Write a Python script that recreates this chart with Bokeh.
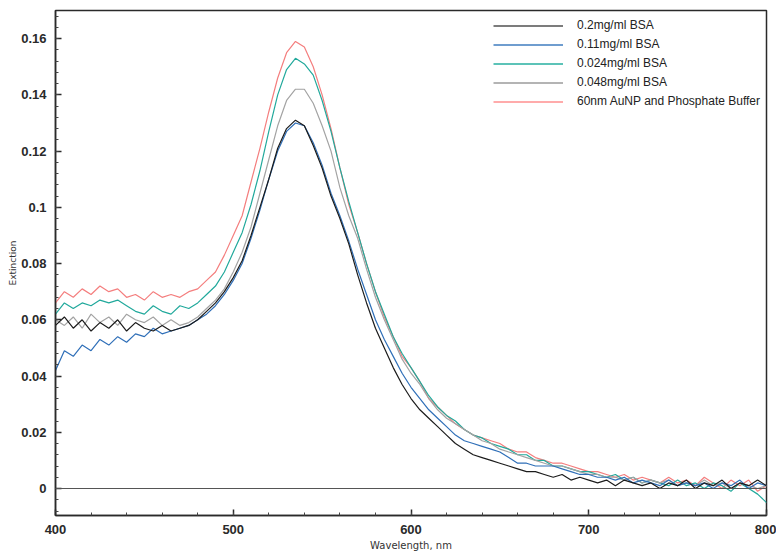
from bokeh.plotting import figure
from bokeh.models import (Range1d, FixedTicker, CustomJSTickFormatter, Span,
                          Legend, LegendItem)
from bokeh.embed import file_html
from bokeh.resources import INLINE

wavelength = list(range(400, 801, 5))

bsa_020 = [0.058, 0.061, 0.057, 0.060, 0.056, 0.059, 0.057, 0.060, 0.056, 0.059,
           0.057, 0.056, 0.058, 0.056, 0.057, 0.058, 0.060, 0.063, 0.066, 0.070,
           0.075, 0.081, 0.090, 0.100, 0.110, 0.121, 0.128, 0.131, 0.129, 0.122,
           0.114, 0.104, 0.096, 0.087, 0.076, 0.066, 0.057, 0.050, 0.043, 0.037,
           0.032, 0.028, 0.025, 0.022, 0.019, 0.016, 0.014, 0.012, 0.011, 0.010,
           0.009, 0.008, 0.007, 0.006, 0.006, 0.005, 0.004, 0.005, 0.003, 0.004,
           0.003, 0.002, 0.003, 0.001, 0.003, 0.002, 0.001, 0.002, 0.000, 0.002,
           0.001, 0.003, 0.000, 0.002, 0.001, 0.003, 0.000, 0.002, 0.001, 0.003,
           0.001]

bsa_011 = [0.042, 0.049, 0.047, 0.051, 0.049, 0.053, 0.051, 0.054, 0.052, 0.055,
           0.054, 0.057, 0.055, 0.056, 0.057, 0.058, 0.060, 0.062, 0.065, 0.069,
           0.074, 0.080, 0.089, 0.099, 0.110, 0.120, 0.127, 0.130, 0.129, 0.123,
           0.115, 0.105, 0.097, 0.088, 0.078, 0.069, 0.060, 0.053, 0.047, 0.041,
           0.036, 0.032, 0.028, 0.025, 0.022, 0.019, 0.017, 0.016, 0.015, 0.014,
           0.013, 0.011, 0.009, 0.009, 0.008, 0.008, 0.008, 0.007, 0.006, 0.005,
           0.005, 0.004, 0.004, 0.003, 0.004, 0.002, 0.003, 0.002, 0.001, 0.003,
           0.001, 0.002, 0.001, 0.002, 0.000, 0.002, 0.001, 0.003, 0.000, 0.002,
           0.001]

bsa_0024 = [0.062, 0.066, 0.064, 0.066, 0.065, 0.067, 0.066, 0.067, 0.065, 0.063,
            0.062, 0.065, 0.063, 0.062, 0.065, 0.064, 0.066, 0.069, 0.072, 0.077,
            0.084, 0.091, 0.101, 0.113, 0.127, 0.140, 0.149, 0.153, 0.151, 0.147,
            0.138, 0.127, 0.114, 0.102, 0.091, 0.080, 0.070, 0.062, 0.054, 0.048,
            0.043, 0.038, 0.033, 0.029, 0.026, 0.024, 0.021, 0.019, 0.018, 0.016,
            0.015, 0.014, 0.012, 0.012, 0.010, 0.010, 0.008, 0.008, 0.007, 0.006,
            0.006, 0.005, 0.004, 0.005, 0.003, 0.004, 0.002, 0.003, 0.002, 0.001,
            0.003, 0.001, 0.002, 0.000, 0.002, 0.001, -0.001, 0.002, 0.000, -0.002,
            -0.005]

bsa_0048 = [0.060, 0.058, 0.061, 0.057, 0.062, 0.059, 0.061, 0.058, 0.062, 0.060,
            0.059, 0.061, 0.058, 0.060, 0.058, 0.059, 0.061, 0.064, 0.067, 0.071,
            0.077, 0.084, 0.093, 0.105, 0.117, 0.129, 0.138, 0.142, 0.142, 0.137,
            0.129, 0.120, 0.107, 0.097, 0.089, 0.078, 0.068, 0.060, 0.053, 0.046,
            0.041, 0.037, 0.032, 0.028, 0.025, 0.023, 0.021, 0.019, 0.017, 0.016,
            0.014, 0.013, 0.012, 0.011, 0.010, 0.009, 0.008, 0.008, 0.007, 0.006,
            0.005, 0.005, 0.004, 0.004, 0.003, 0.004, 0.002, 0.003, 0.002, 0.003,
            0.001, 0.002, 0.001, 0.003, 0.001, 0.002, 0.000, 0.002, 0.001, 0.000,
            0.001]

aunp_buffer = [0.066, 0.070, 0.068, 0.071, 0.069, 0.072, 0.070, 0.071, 0.068, 0.069,
               0.067, 0.070, 0.068, 0.069, 0.068, 0.070, 0.071, 0.074, 0.077, 0.083,
               0.090, 0.097, 0.109, 0.121, 0.134, 0.146, 0.155, 0.159, 0.157, 0.150,
               0.140, 0.128, 0.114, 0.101, 0.091, 0.080, 0.070, 0.061, 0.054, 0.047,
               0.043, 0.038, 0.032, 0.029, 0.026, 0.023, 0.021, 0.019, 0.018, 0.017,
               0.016, 0.014, 0.013, 0.013, 0.011, 0.010, 0.009, 0.009, 0.008, 0.007,
               0.006, 0.006, 0.005, 0.004, 0.005, 0.003, 0.004, 0.003, 0.002, 0.004,
               0.002, 0.003, 0.001, 0.004, 0.002, 0.000, 0.003, 0.001, 0.003, -0.001,
               0.001]

labels = ["0.2mg/ml BSA", "0.11mg/ml BSA", "0.024mg/ml BSA", "0.048mg/ml BSA",
          "60nm AuNP and Phosphate Buffer"]
series = [bsa_020, bsa_011, bsa_0024, bsa_0048, aunp_buffer]
colors = ["#1c1c1c", "#2f6fb8", "#22a99c", "#a3a3a3", "#f47e7e"]
legend_colors = ["#7c7c7c", "#6f9dcf", "#5cc3b8", "#b4b4b4", "#ffabab"]

x_ticks = [400, 500, 600, 700, 800]
y_ticks = [0, 0.02, 0.04, 0.06, 0.08, 0.1, 0.12, 0.14, 0.16]

p = figure(frame_width=711, frame_height=505,
           x_range=Range1d(400, 800), y_range=Range1d(-0.0096, 0.170),
           output_backend="svg", toolbar_location=None,
           min_border_left=55, min_border_right=10, min_border_top=10,
           min_border_bottom=34)
p.background_fill_color = "white"
p.border_fill_color = "white"
p.outline_line_color = "#2a2a2a"
p.outline_line_width = 1.5
p.xgrid.visible = False
p.ygrid.visible = False

p.add_layout(Span(location=0, dimension="width", line_color="#555555",
                  line_width=1))

# draw order: back to front
order = [4, 2, 3, 1, 0]
for i in order:
    p.line(wavelength, series[i], line_color=colors[i], line_width=1.2)

# legend-only renderers (a single undefined point, nothing drawn in the plot)
nan = float("nan")
legend_renderers = [p.line([wavelength[0]], [nan], line_color=legend_colors[i],
                           line_width=2)
                    for i in range(5)]
items = [LegendItem(label=labels[i], renderers=[legend_renderers[i]])
         for i in range(5)]
legend = Legend(items=items, location=(438, 407))
legend.glyph_width = 70
legend.glyph_height = 13
legend.label_height = 13
legend.label_standoff = 14
legend.spacing = 5
legend.padding = 0
legend.margin = 0
legend.border_line_alpha = 0
legend.background_fill_alpha = 0
legend.label_text_font = "Liberation Sans"
legend.label_text_font_size = "12px"
legend.label_text_color = "#222222"
p.add_layout(legend)

p.xaxis.ticker = FixedTicker(ticks=x_ticks, minor_ticks=list(range(400, 801, 20)))
p.yaxis.ticker = FixedTicker(ticks=y_ticks,
                             minor_ticks=[round(-0.008 + 0.004 * k, 3) for k in range(45)])
p.yaxis.formatter = CustomJSTickFormatter(code="""
    if (Math.abs(tick) < 1e-9) return "0";
    let s = tick.toFixed(2);
    if (s.endsWith("0")) s = s.slice(0, -1);
    return s;
""")

for ax in (p.xaxis, p.yaxis):
    ax.axis_line_color = "#2a2a2a"
    ax.axis_line_width = 1.5
    ax.major_tick_in = 6
    ax.major_tick_out = 0
    ax.minor_tick_in = 3
    ax.minor_tick_out = 0
    ax.major_tick_line_color = "#2a2a2a"
    ax.major_tick_line_width = 1.5
    ax.minor_tick_line_color = "#444444"
    ax.major_label_text_font = "Liberation Sans"
    ax.major_label_text_font_style = "bold"
    ax.major_label_text_font_size = "13px"
    ax.major_label_text_color = "#2a2a2a"
    ax.axis_label_text_font = "DejaVu Sans"
    ax.axis_label_text_font_style = "normal"
    ax.axis_label_text_color = "#333333"

p.xaxis.axis_label = "Wavelength, nm"
p.xaxis.axis_label_text_font_size = "10px"
p.xaxis.major_label_standoff = 9
p.xaxis.axis_label_standoff = 3
p.yaxis.axis_label = "Extinction"
p.yaxis.axis_label_text_font_size = "9px"
p.yaxis.major_label_standoff = 9
p.yaxis.axis_label_standoff = 0

open("out.html", "w").write(file_html(p, INLINE))
